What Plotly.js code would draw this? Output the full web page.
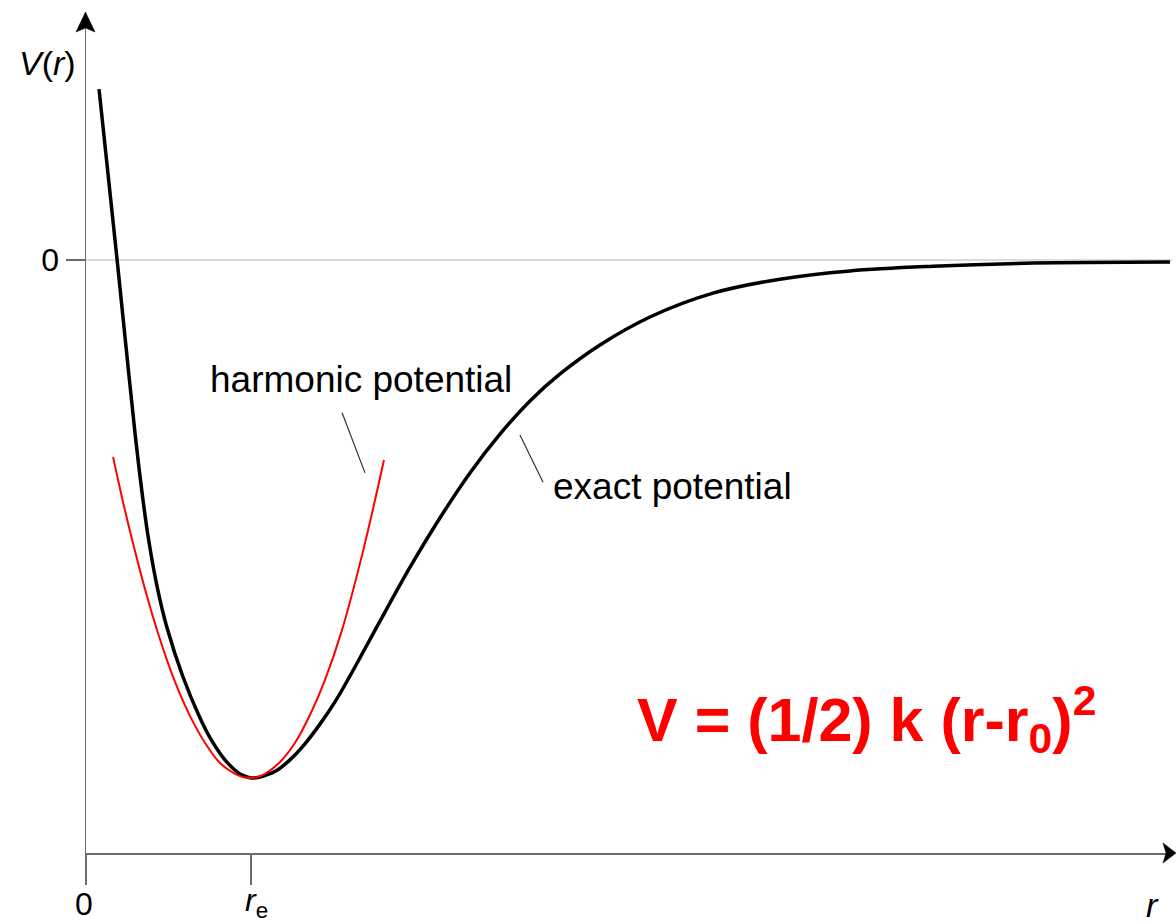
<!DOCTYPE html>
<html>
<head>
<meta charset="utf-8">
<script src="https://cdn.plot.ly/plotly-3.0.1.min.js"></script>
<style>
  html, body { margin: 0; padding: 0; background: #ffffff; }
  #plot { width: 1176px; height: 923px; }
</style>
</head>
<body>
<div id="plot"></div>
<script>
// Internuclear distance r (in units of r_e) and potential energy V (in units of the well depth)

// Exact (anharmonic) potential
const exactR = [0.079, 0.188, 0.242, 0.297, 0.333, 0.376, 0.430, 0.491, 0.588, 0.691, 0.764,
                0.842, 0.915, 0.958, 1.000, 1.042, 1.079, 1.158, 1.236, 1.327, 1.418, 1.509, 1.600, 1.782,
                1.964, 2.145, 2.327, 2.509, 2.691, 2.873, 3.115, 3.418, 3.800, 4.206, 4.630,
                5.133, 5.739, 6.570];
const exactV = [0.330, 0.002, -0.166, -0.334, -0.432, -0.533, -0.629, -0.710, -0.805, -0.884, -0.929,
                -0.965, -0.988, -0.996, -1.000, -0.999, -0.996, -0.985, -0.965, -0.934, -0.896, -0.853, -0.803, -0.697,
                -0.593, -0.498, -0.411, -0.336, -0.272, -0.220, -0.164, -0.110, -0.064, -0.037, -0.021,
                -0.012, -0.006, -0.004];

// Harmonic approximation around the minimum
const harmR = [0.164, 0.230, 0.297, 0.364, 0.436, 0.533, 0.630, 0.721, 0.812, 0.903, 0.950, 0.994,
               1.040, 1.085, 1.176, 1.267, 1.358, 1.448, 1.552, 1.679, 1.806];
const harmV = [-0.380, -0.475, -0.562, -0.643, -0.720, -0.809, -0.880, -0.932, -0.971, -0.992, -0.998, -1.000,
               -0.998, -0.992, -0.969, -0.932, -0.878, -0.811, -0.714, -0.562, -0.386];

// Axis ticks
const xTickVals = [0, 1];
const xTickText = ['0', '<i>r</i><sub>e</sub>'];
const yTickVals = [0];
const yTickText = ['0'];

// Leader lines from the labels to the curves
const harmLeaderR = [1.552, 1.691];
const harmLeaderV = [-0.295, -0.411];
const exactLeaderR = [2.630, 2.770];
const exactLeaderV = [-0.338, -0.429];

const FONT = 'Liberation Sans, Arial, Helvetica, sans-serif';
const AXIS = '#6b6b6b';

const traces = [
  {
    x: exactR, y: exactV, type: 'scatter', mode: 'lines',
    line: { color: '#000000', width: 3.5, shape: 'spline', smoothing: 1 },
    hoverinfo: 'skip', showlegend: false
  },
  {
    x: harmR, y: harmV, type: 'scatter', mode: 'lines',
    line: { color: '#ff0000', width: 2, shape: 'spline', smoothing: 1 },
    hoverinfo: 'skip', showlegend: false
  }
];

// x tick labels sit below the long tick marks (paper x of each tick, nudged for the glyphs)
const X_RANGE = [0, 6.582];
const xTickOffset = [-0.002, 0.005];
const xTickY = [-0.0610, -0.0585];
const xTickLabels = xTickVals.map((v, i) => ({
  xref: 'paper', yref: 'paper',
  x: (v - X_RANGE[0]) / (X_RANGE[1] - X_RANGE[0]) + xTickOffset[i], y: xTickY[i],
  xanchor: 'center', yanchor: 'middle', showarrow: false,
  text: xTickText[i], font: { family: FONT, size: 32, color: '#000000' }
}));

const layout = {
  width: 1176, height: 923, autosize: false,
  margin: { l: 86, r: 4, t: 12, b: 70, pad: 0 },
  paper_bgcolor: '#ffffff', plot_bgcolor: '#ffffff',
  font: { family: FONT, color: '#000000', size: 32 },
  xaxis: {
    range: X_RANGE, fixedrange: true,
    showgrid: false, zeroline: false,
    showline: true, linecolor: AXIS, linewidth: 1.5,
    tickmode: 'array', tickvals: xTickVals, ticktext: xTickText,
    ticks: 'outside', ticklen: 30, tickwidth: 1.5, tickcolor: AXIS,
    showticklabels: false
  },
  yaxis: {
    range: [-1.1448, 0.4788], fixedrange: true,
    showgrid: true, gridcolor: '#dcdcdc', gridwidth: 1.5, zeroline: false,
    showline: true, linecolor: AXIS, linewidth: 1.5,
    tickmode: 'array', tickvals: yTickVals, ticktext: yTickText,
    ticks: 'outside', ticklen: 19, tickwidth: 1.5, tickcolor: AXIS,
    tickfont: { family: FONT, size: 32, color: '#000000' }
  },
  shapes: [
    // arrowhead on the V axis
    { type: 'path', xref: 'paper', yref: 'paper',
      path: 'M -0.0005 1.0 L 0.0083 0.9762 L -0.0005 0.9810 L -0.0092 0.9762 Z',
      fillcolor: '#000000', line: { color: '#000000', width: 0.5 } },
    // arrowhead on the r axis
    { type: 'path', xref: 'paper', yref: 'paper',
      path: 'M 1.0037 0 L 0.9917 0.0119 L 0.9945 0 L 0.9917 -0.0119 Z',
      fillcolor: '#000000', line: { color: '#000000', width: 0.5 } },
    // leader lines
    { type: 'line', xref: 'x', yref: 'y',
      x0: harmLeaderR[0], y0: harmLeaderV[0], x1: harmLeaderR[1], y1: harmLeaderV[1],
      line: { color: '#333333', width: 1.2 } },
    { type: 'line', xref: 'x', yref: 'y',
      x0: exactLeaderR[0], y0: exactLeaderV[0], x1: exactLeaderR[1], y1: exactLeaderV[1],
      line: { color: '#333333', width: 1.2 } }
  ],
  annotations: xTickLabels.concat([
    { xref: 'paper', yref: 'paper', x: -0.0359, y: 0.9394, xanchor: 'center', yanchor: 'middle',
      text: '<i>V</i>(<i>r</i>)', showarrow: false, font: { family: FONT, size: 34, color: '#000000' } },
    { xref: 'paper', yref: 'paper', x: 0.9816, y: -0.0618, xanchor: 'center', yanchor: 'middle',
      text: '<i>r</i>', showarrow: false, font: { family: FONT, size: 34, color: '#000000' } },
    { xref: 'paper', yref: 'paper', x: 0.2532, y: 0.5636, xanchor: 'center', yanchor: 'middle',
      text: 'harmonic potential', showarrow: false, font: { family: FONT, size: 37, color: '#000000' } },
    { xref: 'paper', yref: 'paper', x: 0.5405, y: 0.4352, xanchor: 'center', yanchor: 'middle',
      text: 'exact potential', showarrow: false, font: { family: FONT, size: 37, color: '#000000' } },
    { xref: 'paper', yref: 'paper', x: 0.5055, y: 0.1593, xanchor: 'left', yanchor: 'middle',
      text: '<b>V = (1/2) k (r-r<sub>0</sub>)<sup>2</sup></b>', showarrow: false,
      font: { family: FONT, size: 61, color: '#ff0000' } }
  ])
};

Plotly.newPlot('plot', traces, layout, { displayModeBar: false, staticPlot: true });
</script>
</body>
</html>
